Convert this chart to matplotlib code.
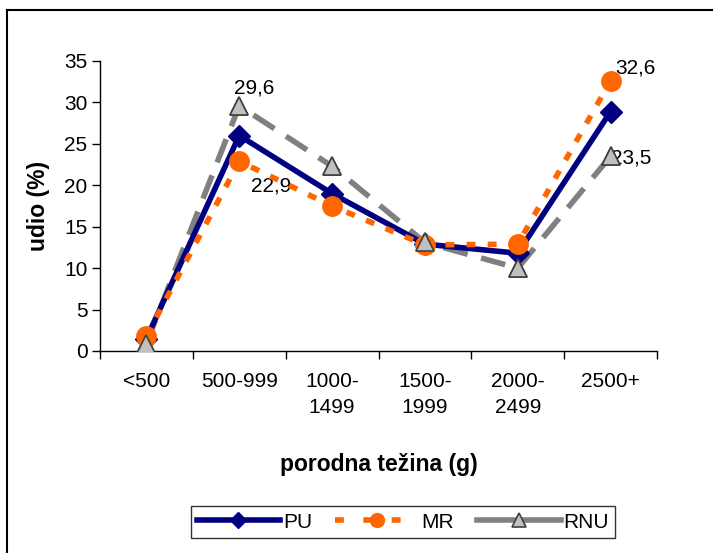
import numpy as np
import matplotlib
matplotlib.use("Agg")
import matplotlib.pyplot as plt
from matplotlib.lines import Line2D

plt.rcParams['font.family'] = ['Liberation Sans', 'DejaVu Sans']

# podaci
kategorije = ['<500', '500-999', '1000-\n1499', '1500-\n1999', '2000-\n2499', '2500+']
pu = [1.5, 26.0, 19.0, 12.9, 11.8, 28.9]
mr = [1.8, 22.9, 17.5, 12.8, 12.9, 32.6]
rnu = [0.9, 29.6, 22.3, 13.1, 10.0, 23.5]

fig = plt.figure(figsize=(7.13, 5.53), dpi=100)
ax = fig.add_axes([100/713, 1-351/553, 557/713, 290/553])

x = np.arange(len(kategorije))

ax.plot(x, rnu, color='#808080', lw=4, dashes=(4.5, 2.5), marker='^', ms=13,
        mfc='#C0C0C0', mec='#404040', mew=1.2, zorder=2, label='RNU')
ax.plot(x, pu, color='#000080', lw=4, marker='D', ms=11,
        mfc='#000080', mec='#000080', zorder=3, label='PU')
ax.plot(x, mr, color='#FF6600', lw=4, dashes=(1.6, 2.2), marker='o', ms=14,
        mfc='#FF6600', mec='#FF6600', zorder=4, label='MR')
# trokuti iznad
ax.plot(x, rnu, ls='none', marker='^', ms=13, mfc='#C0C0C0', mec='#404040',
        mew=1.2, zorder=5)

# oznake vrijednosti
fs = 15
ax.annotate('29,6', (x[1], rnu[1]), xytext=(11, 13), textcoords='offset points',
            ha='center', va='center', fontsize=fs)
ax.annotate('22,9', (x[1], mr[1]), xytext=(23, -18), textcoords='offset points',
            ha='center', va='center', fontsize=fs)
ax.annotate('32,6', (x[5], mr[5]), xytext=(18, 9), textcoords='offset points',
            ha='center', va='center', fontsize=fs)
ax.annotate('23,5', (x[5], rnu[5]), xytext=(15, -1), textcoords='offset points',
            ha='center', va='center', fontsize=fs)

ax.set_xlim(-0.5, 5.5)
ax.set_ylim(0, 35)
ax.set_yticks(np.arange(0, 36, 5))
ax.set_xticks(x)
ax.set_xticklabels(kategorije, linespacing=1.45)
ax.set_xticks(np.arange(-0.5, 6, 1), minor=True)
ax.tick_params(axis='x', which='major', length=0, pad=15, labelsize=fs)
ax.tick_params(axis='x', which='minor', length=6, width=1, direction='out')
ax.tick_params(axis='y', length=6, width=1, direction='out', labelsize=fs, pad=3)

for s in ['top', 'right']:
    ax.spines[s].set_visible(False)
ax.spines['left'].set_linewidth(1)
ax.spines['bottom'].set_linewidth(1)

ax.set_ylabel('udio (%)', fontsize=16.5, fontweight='bold')
ax.yaxis.set_label_coords(-0.09, 0.5)
ax.set_xlabel('porodna težina (g)', fontsize=16.5, fontweight='bold')
ax.xaxis.set_label_coords(0.5, -0.35)

handles = [
    Line2D([], [], color='#000080', lw=4, marker='D', ms=8, mfc='#000080'),
    Line2D([], [], color='#FF6600', lw=4, dashes=(1.6, 3.5), marker='o', ms=10,
           mfc='#FF6600', mec='#FF6600'),
    Line2D([], [], color='#808080', lw=4, marker='^', ms=10, mfc='#C0C0C0',
           mec='#404040', mew=1.2),
]
leg = fig.legend(handles, ['PU', 'MR', 'RNU'], loc='center', ncol=3,
                 bbox_to_anchor=(403/713, 1-522/553), fontsize=15,
                 frameon=True, fancybox=False, edgecolor='black',
                 handlelength=4.0, handletextpad=0.15, columnspacing=1.1,
                 borderpad=0.3)
leg.get_frame().set_linewidth(1)

# okvir
fig.add_artist(Line2D([7/713, 7/713], [0, 1-10/553], color='black', lw=1.5,
                      transform=fig.transFigure))
fig.add_artist(Line2D([7/713, 1], [1-10/553, 1-10/553], color='black', lw=1.5,
                      transform=fig.transFigure))

fig.savefig('out.png', dpi=100)
